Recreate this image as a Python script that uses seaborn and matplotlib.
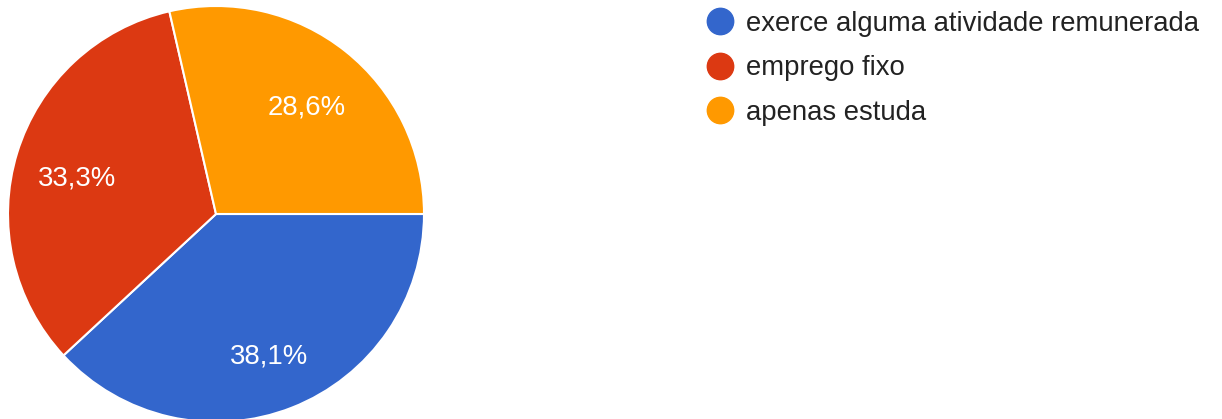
import matplotlib
matplotlib.use("Agg")
import matplotlib.pyplot as plt
import matplotlib.transforms as mtransforms
import seaborn as sns
from matplotlib.lines import Line2D

categories = ["exerce alguma atividade remunerada", "emprego fixo", "apenas estuda"]
values = [38.1, 33.3, 28.6]
colors = ["#3366CC", "#DC3912", "#FF9900"]

sns.set_theme(style="white")
plt.rcParams['font.family'] = ['Liberation Sans', 'DejaVu Sans']

W, H = 1222, 419
fig = plt.figure(figsize=(W / 100, H / 100), dpi=100)
fig.patch.set_facecolor("white")

cx, cy, r = 216, 214, 208
ax = fig.add_axes([(cx - r) / W, (H - cy - r) / H, 2 * r / W, 2 * r / H])
wedges, texts, autotexts = ax.pie(
    values, colors=colors, startangle=0, counterclock=False,
    autopct=lambda p: f"{p:.1f}%".replace(".", ","), pctdistance=0.70,
    wedgeprops=dict(edgecolor="white", linewidth=1.5),
    textprops=dict(color="white", fontsize=19.8),
)
shift = mtransforms.offset_copy(ax.transData, fig=fig, x=0, y=-7, units="dots")
for t in autotexts:
    t.set_transform(shift)
ax.set_xlim(-1, 1)
ax.set_ylim(-1, 1)
ax.set_aspect("equal")
ax.axis("off")

handles = [Line2D([0], [0], marker="o", linestyle="none", markersize=19,
                  markerfacecolor=c, markeredgecolor=c) for c in colors]
fig.legend(handles, categories, loc="upper left",
           bbox_to_anchor=(695 / W, 1 - 0 / H), frameon=False,
           fontsize=19.8, handlelength=1.0, handletextpad=0.45,
           labelspacing=0.67, borderaxespad=0, labelcolor="#222222")

fig.savefig("out.png", dpi=100)
